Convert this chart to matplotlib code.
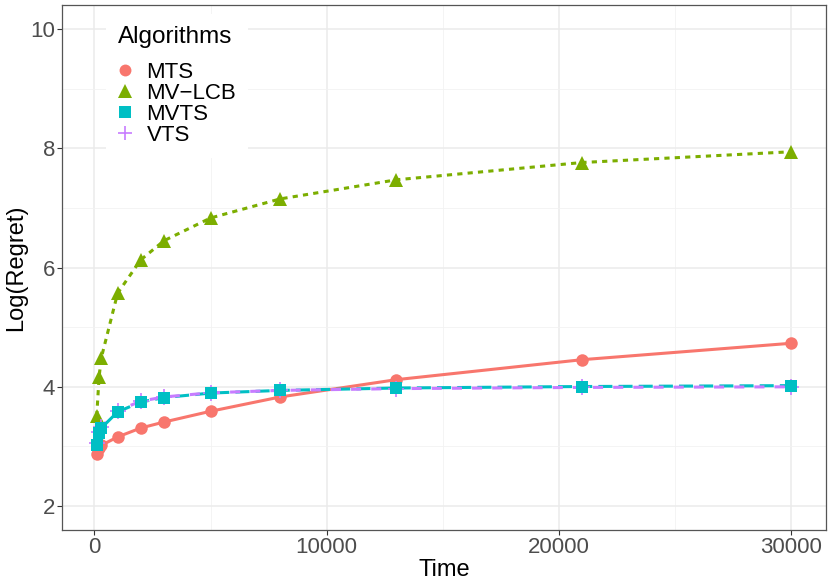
import matplotlib
matplotlib.use("Agg")
import matplotlib.pyplot as plt
from matplotlib.lines import Line2D

plt.rcParams['font.family'] = ['Liberation Sans', 'DejaVu Sans']

time = [100, 200, 300, 1000, 2000, 3000, 5000, 8000, 13000, 21000, 30000]
mts = [2.88, 2.97, 3.02, 3.16, 3.31, 3.41, 3.59, 3.83, 4.12, 4.455, 4.73]
mvlcb = [3.51, 4.16, 4.49, 5.57, 6.13, 6.45, 6.83, 7.15, 7.47, 7.76, 7.94]
mvts = [3.02, 3.22, 3.31, 3.58, 3.745, 3.82, 3.895, 3.94, 3.98, 4.005, 4.02]
vts = [3.05, 3.24, 3.33, 3.60, 3.76, 3.83, 3.90, 3.94, 3.97, 3.99, 4.00]

names = ["MTS", "MV\u2212LCB", "MVTS", "VTS"]
x_ticks = [0, 10000, 20000, 30000]
y_ticks = [2, 4, 6, 8, 10]

colors = ["#F8766D", "#7CAE00", "#00BFC4", "#C77CFF"]
markers = ["o", "^", "s", "+"]
msizes = [9, 10.5, 9, 11]
styles = ["-", (0, (1.7, 1.7)), (0, (4.6, 2.0)), (2, (3.3, 3.3))]
series = [mts, mvlcb, mvts, vts]

fig = plt.figure(figsize=(8.3, 5.88), dpi=100)
ax = fig.add_axes([62/830, 1-530/588, (826-62)/830, (530-5)/588])

lw = 2.2
for i in [0, 1, 2, 3]:
    ax.plot(time, series[i], color=colors[i], lw=lw, linestyle=styles[i], zorder=3)
for i in [0, 1, 3, 2]:
    ax.plot(time, series[i], color=colors[i], lw=0, marker=markers[i],
            markersize=msizes[i], markeredgewidth=1.2 if markers[i] == "+" else 0,
            markeredgecolor=colors[i], zorder=4)

xr = 30000 - 100
ax.set_xlim(100 - 0.05*xr, 30000 + 0.05*xr)
ax.set_ylim(1.6, 10.4)
ax.set_xticks(x_ticks)
ax.set_xticklabels([str(t) for t in x_ticks])
ax.set_yticks(y_ticks)
ax.set_yticklabels([str(t) for t in y_ticks])
ax.set_xticks([5000, 15000, 25000], minor=True)
ax.set_yticks([3, 5, 7, 9], minor=True)
ax.grid(which="major", color="#EBEBEB", lw=1.1, zorder=0)
ax.grid(which="minor", color="#F2F2F2", lw=0.6, zorder=0)
ax.set_axisbelow(True)
ax.tick_params(which="major", length=3.5, width=0.8, color="#333333",
               labelsize=16, labelcolor="#4D4D4D", pad=1.5)
ax.tick_params(which="minor", length=0)
for s in ax.spines.values():
    s.set_color("#555555")
    s.set_linewidth(0.9)

ax.set_xlabel("Time", fontsize=17, labelpad=1)
ax.set_ylabel("Log(Regret)", fontsize=17, labelpad=2)

handles = [Line2D([], [], lw=0, marker=markers[i], color=colors[i],
                  markersize=msizes[i]*0.95,
                  markeredgewidth=1.2 if markers[i] == "+" else 0,
                  markeredgecolor=colors[i]) for i in range(4)]
leg = fig.legend(handles, names, title="Algorithms", loc="upper left",
                 bbox_to_anchor=(106/830, 1-14/588), frameon=True,
                 fontsize=16, title_fontsize=17.5, handlelength=0.65,
                 handletextpad=0.62, labelspacing=0.0, borderpad=0.55,
                 borderaxespad=0)
leg.get_frame().set_facecolor("white")
leg.get_frame().set_edgecolor("none")
leg.get_frame().set_alpha(1)
leg._legend_box.align = "left"
leg._legend_box.sep = 10

fig.savefig("out.png", dpi=100)
